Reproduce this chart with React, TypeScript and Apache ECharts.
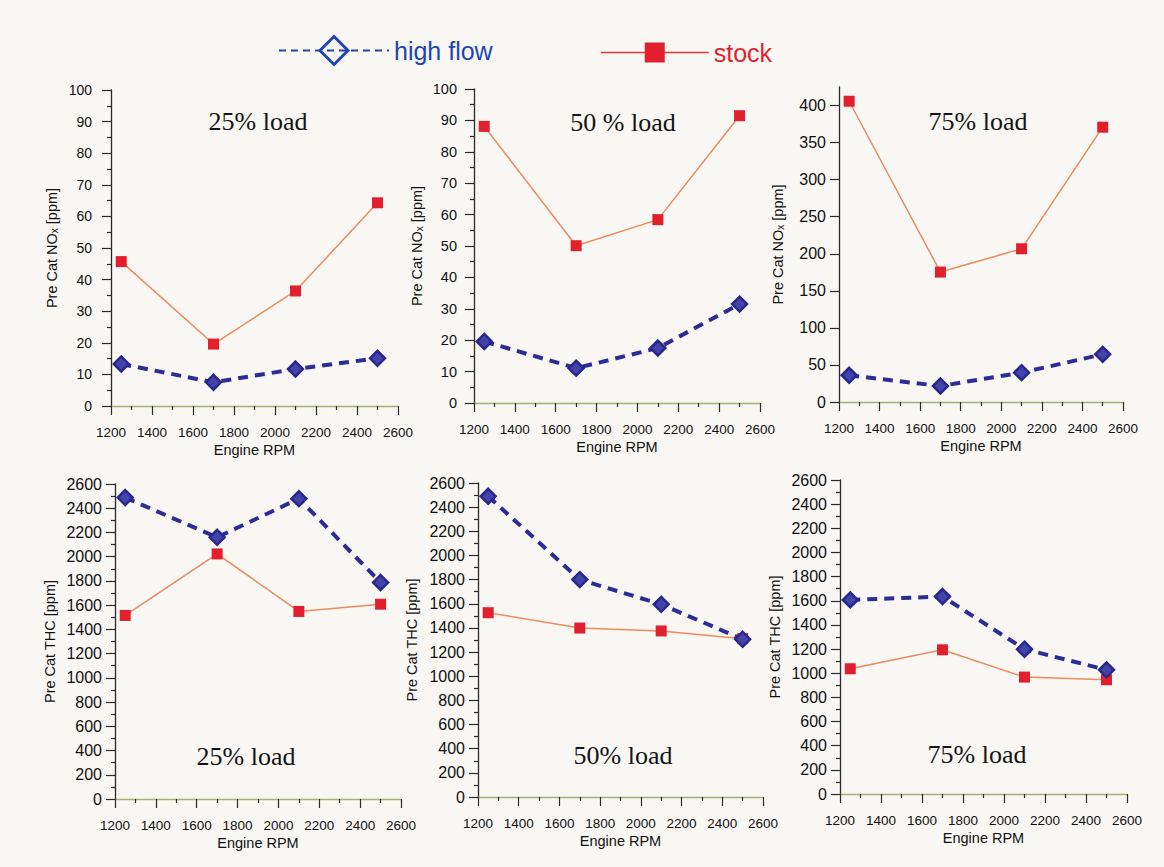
import React, { useEffect, useRef } from "react";
import * as echarts from "echarts";

// ---- data ----
const rpm = [1250, 1700, 2100, 2500];

const nox25High = [13.3, 7.5, 11.7, 15.1];
const nox25Stock = [45.7, 19.6, 36.4, 64.3];
const nox50High = [19.6, 11.1, 17.5, 31.5];
const nox50Stock = [88.1, 50.1, 58.4, 91.5];
const nox75High = [36, 21.6, 39.6, 64.3];
const nox75Stock = [405.8, 175.3, 206.7, 370.8];

const thc25High = [2488, 2160, 2479, 1787];
const thc25Stock = [1515, 2023, 1548, 1608];
const thc50High = [2490, 1800, 1595, 1306];
const thc50Stock = [1526, 1399, 1375, 1311];
const thc75High = [1607, 1635, 1199, 1028];
const thc75Stock = [1037, 1194, 968, 946];

const panelTitles = ["25% load", "50 % load", "75% load", "25% load", "50% load", "75% load"];
const noxTicks75 = [0, 50, 100, 150, 200, 250, 300, 350, 400];
const seriesNames = ["high flow", "stock"];
const xAxisName = "Engine RPM";
const noxName = "Pre Cat NO{sub|x} [ppm]";
const thcName = "Pre Cat THC [ppm]";

const SANS = '"Liberation Sans", Arial, Helvetica, sans-serif';
const SERIF = '"Liberation Serif", "Times New Roman", serif';

const panels = [
  { grid: { left: 111, top: 90, width: 287, height: 316 }, y: { max: 100, interval: 10, minor: true }, labelSize: 14, labelMargin: 19, name: noxName, nameGap: 52, title: [258, 121], high: nox25High, stock: nox25Stock },
  { grid: { left: 474, top: 89, width: 286, height: 314 }, y: { max: 100, interval: 10, minor: true }, labelSize: 14.5, labelMargin: 17, name: noxName, nameGap: 50, title: [623, 122], high: nox50High, stock: nox50Stock },
  { grid: { left: 839, top: 87, width: 284, height: 315 }, y: { max: 425, interval: 50, minor: false, custom: noxTicks75 }, labelSize: 16, labelMargin: 13, name: noxName, nameGap: 54, title: [978, 121], high: nox75High, stock: nox75Stock },
  { grid: { left: 115, top: 484, width: 286, height: 315 }, y: { max: 2600, interval: 200, minor: true }, labelSize: 16, labelMargin: 13, name: thcName, nameGap: 58, title: [246, 756], high: thc25High, stock: thc25Stock },
  { grid: { left: 478, top: 483, width: 285, height: 314 }, y: { max: 2600, interval: 200, minor: true }, labelSize: 16, labelMargin: 13, name: thcName, nameGap: 59, title: [623, 755], high: thc50High, stock: thc50Stock },
  { grid: { left: 840, top: 480, width: 287, height: 314 }, y: { max: 2600, interval: 200, minor: true }, labelSize: 16, labelMargin: 13, name: thcName, nameGap: 58, title: [977, 754], high: thc75High, stock: thc75Stock },
];

const HIGH_LINE = "#2d2b97";
const HIGH_LEGEND = "#1f44b4";
const STOCK_LINE = "#ee8a5c";
const STOCK_MARK = "#e21f2c";
const AXIS = "#2a2a2a";
const LABEL = "#111111";

const plain = (v: number) => String(v);

function buildOption() {
  const grid = panels.map((p) => ({ ...p.grid }));
  const xAxis = panels.map((p, i) => ({
    gridIndex: i,
    type: "value",
    min: 1200,
    max: 2600,
    interval: 200,
    axisLine: { show: true, onZero: false, lineStyle: { color: "#9fb46c", width: 1.3 } },
    axisTick: { show: true, length: 9, lineStyle: { color: AXIS, width: 1.2 } },
    minorTick: { show: true, splitNumber: 2, length: 4, lineStyle: { color: AXIS, width: 1.2 } },
    splitLine: { show: false },
    axisLabel: { fontSize: 13.5, color: LABEL, margin: 19, fontFamily: SANS, formatter: plain },
    name: xAxisName,
    nameLocation: "middle",
    nameGap: 36,
    nameTextStyle: { fontSize: 14.5, color: LABEL, fontFamily: SANS },
  }));
  const yAxis = panels.map((p, i) => {
    const label: any = { fontSize: p.labelSize, color: LABEL, margin: p.labelMargin, fontFamily: SANS, formatter: plain };
    const tick: any = { show: true, length: 9, lineStyle: { color: AXIS, width: 1.2 } };
    if (p.y.custom) {
      label.customValues = p.y.custom;
      tick.customValues = p.y.custom;
    }
    return {
      gridIndex: i,
      type: "value",
      min: 0,
      max: p.y.max,
      interval: p.y.interval,
      axisLine: { show: true, lineStyle: { color: AXIS, width: 1.3 } },
      axisTick: tick,
      minorTick: { show: p.y.minor, splitNumber: 2, length: 4, lineStyle: { color: AXIS, width: 1.2 } },
      splitLine: { show: false },
      axisLabel: label,
      name: p.name,
      nameLocation: "middle",
      nameGap: p.nameGap,
      nameTextStyle: {
        fontSize: 14.5,
        color: LABEL,
        fontFamily: SANS,
        rich: { sub: { fontSize: 10, fontFamily: SANS, color: LABEL, verticalAlign: "bottom", lineHeight: 10 } },
      },
    };
  });
  const series: any[] = [];
  panels.forEach((p, i) => {
    series.push({
      name: seriesNames[0],
      type: "line",
      xAxisIndex: i,
      yAxisIndex: i,
      data: rpm.map((r, k) => [r, p.high[k]]),
      symbol: "diamond",
      symbolSize: 15,
      lineStyle: { color: HIGH_LINE, width: 4, type: [10, 7] },
      itemStyle: { color: "#4343aa", borderColor: "#28268c", borderWidth: 2.4 },
      z: 3,
    });
    series.push({
      name: seriesNames[1],
      type: "line",
      xAxisIndex: i,
      yAxisIndex: i,
      data: rpm.map((r, k) => [r, p.stock[k]]),
      symbol: "rect",
      symbolSize: 11,
      lineStyle: { color: STOCK_LINE, width: 1.5 },
      itemStyle: { color: STOCK_MARK },
      z: 2,
    });
  });
  const graphic = panels.map((p, i) => ({
    type: "text",
    x: p.title[0],
    y: p.title[1],
    style: {
      text: panelTitles[i],
      font: `26px ${SERIF}`,
      fill: "#141414",
      align: "center",
      verticalAlign: "middle",
    },
  }));
  return {
    animation: false,
    backgroundColor: "#f8f7f3",
    legend: [
      {
        data: [seriesNames[0]],
        left: 278,
        top: 35,
        padding: 0,
        itemWidth: 110,
        itemHeight: 35,
        selectedMode: false,
        textStyle: { fontSize: 25, color: HIGH_LEGEND, fontFamily: SANS },
        lineStyle: { type: [7, 5], width: 2, color: HIGH_LEGEND },
        itemStyle: { color: "rgba(0,0,0,0)", borderColor: HIGH_LEGEND, borderWidth: 3 },
      },
      {
        data: [seriesNames[1]],
        left: 600,
        top: 40,
        padding: 0,
        itemWidth: 108,
        itemHeight: 25,
        selectedMode: false,
        textStyle: { fontSize: 25, color: STOCK_MARK, fontFamily: SANS },
        lineStyle: { type: "solid", width: 1.5, color: "#e8393a" },
        itemStyle: { color: STOCK_MARK, borderWidth: 0 },
      },
    ],
    grid,
    xAxis,
    yAxis,
    series,
    graphic,
  };
}

export default function App() {
  const ref = useRef<HTMLDivElement>(null);
  useEffect(() => {
    if (!ref.current) return;
    const chart = echarts.init(ref.current, undefined, { renderer: "svg" });
    chart.setOption(buildOption() as any);
    return () => chart.dispose();
  }, []);
  return (
    <div
      ref={ref}
      style={{ position: "fixed", left: 0, top: 0, width: 1164, height: 867 }}
    />
  );
}
